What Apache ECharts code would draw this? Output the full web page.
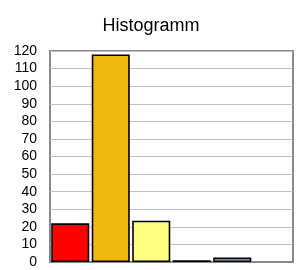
<!DOCTYPE html>
<html>
<head>
<meta charset="utf-8">
<script src="https://cdn.jsdelivr.net/npm/echarts@6/dist/echarts.min.js"></script>
<style>
  html, body { margin: 0; padding: 0; background: #fff; }
  #chart { width: 302px; height: 270px; }
</style>
</head>
<body>
<div id="chart"></div>
<script>
const categories = ["1", "2", "3", "4", "5", "6"];
const counts = [22, 118, 23.5, 1, 2.5, null];
const barColors = ["#ff0000", "#f0b810", "#ffff80", "#000000", "#99b8e8", "#ffffff"];
const yTicks = { min: 0, max: 120, interval: 10 };

const chart = echarts.init(document.getElementById("chart"));
const option = {
  animation: false,
  title: {
    text: "Histogramm",
    left: "center",
    top: 12,
    textStyle: { fontFamily: "Liberation Sans", fontSize: 18, fontWeight: "normal", color: "#000" }
  },
  grid: {
    left: 50, right: 9, top: 51, bottom: 8,
    show: true, borderColor: "#888", borderWidth: 2
  },
  xAxis: {
    type: "category",
    data: categories,
    axisLabel: { show: false },
    axisTick: { show: false },
    axisLine: { lineStyle: { color: "#888", width: 2 } }
  },
  yAxis: {
    type: "value",
    min: yTicks.min,
    max: yTicks.max,
    interval: yTicks.interval,
    axisLine: { show: false },
    axisTick: { show: false },
    axisLabel: { fontFamily: "Liberation Sans", fontSize: 14, color: "#000", margin: 13 },
    splitLine: { lineStyle: { color: "#c0c0c0", width: 1 } }
  },
  series: [{
    type: "bar",
    data: counts.map((v, i) => ({ value: v, itemStyle: { color: barColors[i] } })),
    barCategoryGap: "6%",
    itemStyle: { borderColor: "#000", borderWidth: 1.6 }
  }]
};
chart.setOption(option);
</script>
</body>
</html>
